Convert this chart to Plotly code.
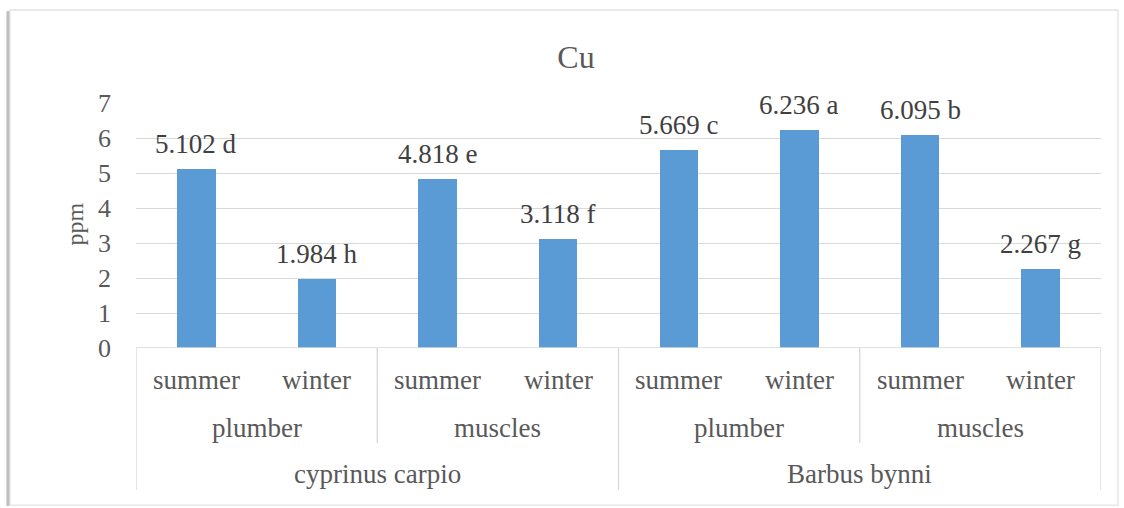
import plotly.graph_objects as go

species = ["cyprinus carpio", "Barbus bynni"]
tissues = ["plumber", "muscles"]
seasons = ["summer", "winter"]
values = [5.102, 1.984, 4.818, 3.118, 5.669, 6.236, 6.095, 2.267]
letters = ["d", "h", "e", "f", "c", "a", "b", "g"]
y_ticks = [0, 1, 2, 3, 4, 5, 6, 7]

BAR = "#5B9BD5"
TXT = "#595959"
LINE = "#D9D9D9"
FONT = "Liberation Serif"
FS = 26
CFS = 27

n = len(values)
xs = list(range(n))

fig = go.Figure()
fig.add_trace(go.Bar(x=xs, y=values, width=0.32, marker=dict(color=BAR, line=dict(width=0)),
                     hoverinfo="skip"))

ann = []
for i, (v, l) in enumerate(zip(values, letters)):
    ann.append(dict(x=i, y=v, xref="x", yref="y", text=f"{v:.3f} {l}", showarrow=False,
                    xanchor="center", yanchor="bottom", yshift=8,
                    font=dict(family=FONT, size=FS + 1, color="#404040")))

k = 0
for s in range(len(species)):
    for t in range(len(tissues)):
        for se in seasons:
            ann.append(dict(x=k, y=-0.131, xref="x", yref="paper", text=se, showarrow=False,
                            xanchor="center", yanchor="middle",
                            font=dict(family=FONT, size=CFS, color=TXT)))
            k += 1

shapes = []
g = 0
for s in range(len(species)):
    for t in tissues:
        c = g * 2 + 0.5
        ann.append(dict(x=c, y=-0.327, xref="x", yref="paper", text=t, showarrow=False,
                        xanchor="center", yanchor="middle",
                        font=dict(family=FONT, size=CFS, color=TXT)))
        g += 1
    c = s * 4 + 1.5
    ann.append(dict(x=c, y=-0.514, xref="x", yref="paper", text=species[s], showarrow=False,
                    xanchor="center", yanchor="middle",
                    font=dict(family=FONT, size=CFS, color=TXT)))

for b in range(0, n + 1, 2):
    xb = b - 0.5
    y1 = -0.58 if b % 4 == 0 else -0.388
    shapes.append(dict(type="line", xref="x", yref="paper", x0=xb, x1=xb, y0=0, y1=y1,
                       line=dict(color=LINE, width=1.3)))
shapes.append(dict(type="line", xref="paper", yref="y", x0=0, x1=1, y0=0, y1=0,
                   line=dict(color=LINE, width=1.3)))
shapes.append(dict(type="rect", xref="paper", yref="paper", x0=-0.1306, x1=1.0176, y0=-0.641, y1=1.3796,
                   line=dict(color="#E3E3E3", width=1.3), layer="below"))
shapes.append(dict(type="line", xref="paper", yref="paper", x0=-0.1327, x1=-0.1327, y0=-0.645, y1=1.376,
                   line=dict(color="#BFBFBF", width=3), layer="below"))

ann.append(dict(x=-0.063, y=0.505, xref="paper", yref="paper", text="ppm", textangle=-90, showarrow=False,
                xanchor="center", yanchor="middle",
                font=dict(family=FONT, size=FS - 2, color=TXT)))

fig.update_layout(
    width=1124, height=508,
    margin=dict(l=136, r=23, t=103, b=160),
    paper_bgcolor="white", plot_bgcolor="white",
    showlegend=False,
    title=dict(text="Cu", x=576 / 1124, xanchor="center", y=1 - 57 / 508, yanchor="middle",
               font=dict(family=FONT, size=32, color=TXT)),
    xaxis=dict(range=[-0.5, n - 0.5], showticklabels=False, showgrid=False, zeroline=False,
               showline=False, ticks="", fixedrange=True),
    yaxis=dict(range=[0, 7], tickvals=y_ticks, showgrid=True, gridcolor=LINE, gridwidth=1.3,
               zeroline=False, showline=False, ticks="", ticklabelstandoff=24,
               tickfont=dict(family=FONT, size=FS, color=TXT), fixedrange=True),
    annotations=ann, shapes=shapes, bargap=0,
)

fig.write_html("out.html", config={"displayModeBar": False},
               post_script="document.body.style.margin='0';")
